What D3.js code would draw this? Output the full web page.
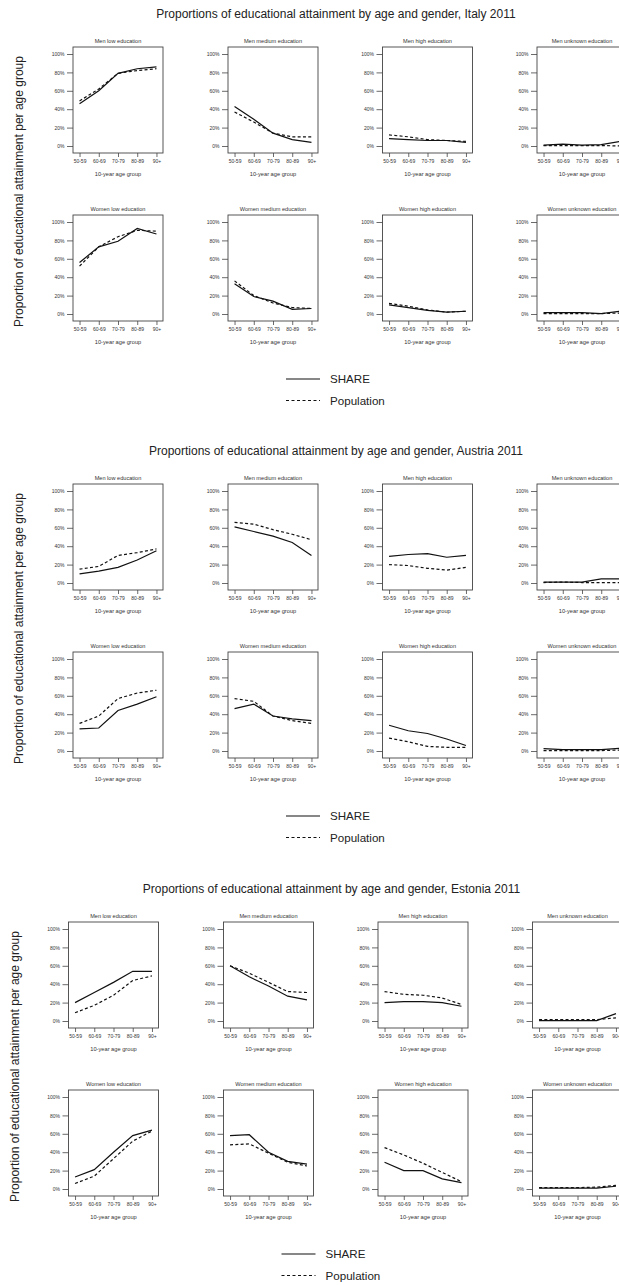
<!DOCTYPE html>
<html>
<script src="https://d3js.org/d3.v7.min.js"></script>
<style>
    body {
        margin: 0;
        background: white;
    }

    text {
        font-family: "Liberation Sans", Arial, sans-serif;
    }
</style>

<body>
    <svg width="619" height="1285"></svg>
    <script>
        const ageGroups = ["50-59", "60-69", "70-79", "80-89", "90+"];
        const yTicks = [0, 20, 40, 60, 80, 100];
        const countries = ["Italy", "Austria", "Estonia"];
        const legendLabels = ["SHARE", "Population"];
        const panelNames = ["Men low education", "Men medium education", "Men high education", "Men unknown education",
            "Women low education", "Women medium education", "Women high education", "Women unknown education"];

        // one row per panel, same order as panelNames, values in %
        const italyShare = [
            [46, 60, 79, 84, 86],
            [43, 29, 14, 7, 4],
            [8, 7, 6, 6, 4],
            [1, 2, 1, 1.5, 5],
            [56, 73, 79, 93, 87],
            [33, 19, 14, 5, 6],
            [10, 7, 4, 2, 3],
            [1.5, 1.5, 1.5, 0.5, 3]
        ];
        const italyPop = [
            [49, 62, 79, 82, 84],
            [37, 26, 14, 10, 10],
            [12, 10, 7, 6, 5],
            [0.5, 0.5, 0.5, 0.5, 0],
            [52, 73, 84, 91, 90],
            [36, 20, 12, 7, 6],
            [11.5, 8.5, 4.5, 2, 3],
            [0.5, 0.5, 0.5, 0.5, 1]
        ];
        const austriaShare = [
            [10, 13, 17, 25, 35],
            [61, 56, 51, 44, 30],
            [29, 31, 32, 28, 30],
            [1, 1, 1, 4.5, 4.5],
            [24, 25, 44, 51, 59],
            [46, 51, 38, 35, 33],
            [28, 22, 19, 13, 6],
            [2.5, 1.5, 1.5, 1.5, 3]
        ];
        const austriaPop = [
            [15, 18, 30, 33, 37],
            [66, 64, 58, 53, 47],
            [20, 19, 16, 14, 17],
            [0.5, 1, 0.5, 0.5, 0.5],
            [30, 38, 57, 63, 66],
            [57, 54, 38, 33, 30],
            [14, 10, 5, 4, 4],
            [0.5, 0.5, 0.5, 0.5, 1]
        ];
        const estoniaShare = [
            [20, 31, 42, 54, 54],
            [60, 48, 38, 27, 23],
            [20, 21, 21, 20, 16],
            [0.5, 0.5, 0.5, 0.5, 8],
            [13, 21, 40, 58, 64],
            [58, 59, 40, 30, 27],
            [29, 20, 20, 11, 7],
            [1, 1, 1, 1, 3]
        ];
        const estoniaPop = [
            [9, 17, 28, 44, 49],
            [60, 52, 42, 32, 31],
            [32, 29, 28, 25, 18],
            [1.5, 1.5, 1.5, 1.5, 3.5],
            [6, 14, 33, 52, 63],
            [48, 49, 39, 29, 25],
            [45, 37, 28, 18, 8],
            [1.5, 1.5, 1.5, 2, 4]
        ];

        const shareData = [italyShare, austriaShare, estoniaShare];
        const popData = [italyPop, austriaPop, estoniaPop];

        const svg = d3.select('svg');
        const blockTop = [0, 437, 875];
        const blockDx = [0, 0, -4.5];
        const colLeft = [73, 228, 382.5, 537];
        const rowTop = [47, 215];
        const pw = 90, ph = 106;

        const x = d3.scalePoint().domain(ageGroups).range([0, pw]).padding(0.34);
        const y = d3.scaleLinear().domain([0, 100]).range([99, 7]);
        const line = d3.line()
            .x(function (d, i) { return x(ageGroups[i]); })
            .y(function (d) { return y(d); });

        countries.forEach(function (country, ci) {
            const g = svg.append('g').attr('transform', 'translate(' + blockDx[ci] + ',' + blockTop[ci] + ')');

            g.append('text')
                .attr('x', 336).attr('y', 18)
                .attr('text-anchor', 'middle')
                .attr('font-size', 12).attr('fill', '#222')
                .text('Proportions of educational attainment by age and gender, ' + country + ' 2011');

            g.append('text')
                .attr('transform', 'translate(23,191.5) rotate(-90)')
                .attr('text-anchor', 'middle')
                .attr('font-size', 12).attr('fill', '#222')
                .text('Proportion of educational attainment per age group');

            panelNames.forEach(function (name, pi) {
                const p = g.append('g')
                    .attr('transform', 'translate(' + colLeft[pi % 4] + ',' + rowTop[Math.floor(pi / 4)] + ')');

                p.append('text')
                    .attr('x', pw / 2).attr('y', -4.5)
                    .attr('text-anchor', 'middle')
                    .attr('font-size', 5.6).attr('fill', '#333')
                    .text(name);

                const ya = p.append('g')
                    .call(d3.axisLeft(y).tickValues(yTicks).tickFormat(function (d) { return d + '%'; })
                        .tickSize(6).tickPadding(2.5));
                const xa = p.append('g').attr('transform', 'translate(0,' + ph + ')')
                    .call(d3.axisBottom(x).tickSize(4).tickPadding(2));
                [ya, xa].forEach(function (a) {
                    a.select('.domain').remove();
                    a.attr('font-family', null).attr('font-size', null);
                    a.selectAll('line').attr('stroke', '#444').attr('stroke-width', 0.8);
                    a.selectAll('text').attr('font-size', 5).attr('fill', '#333');
                });

                p.append('text')
                    .attr('x', pw / 2).attr('y', ph + 22.5)
                    .attr('text-anchor', 'middle')
                    .attr('font-size', 5.7).attr('fill', '#333')
                    .text('10-year age group');

                p.append('rect')
                    .attr('width', pw).attr('height', ph)
                    .attr('fill', 'none').attr('stroke', '#444').attr('stroke-width', 0.9);

                p.append('path')
                    .datum(popData[ci][pi])
                    .attr('d', line)
                    .attr('fill', 'none').attr('stroke', '#111')
                    .attr('stroke-width', 1.2).attr('stroke-dasharray', '3,2.3');

                p.append('path')
                    .datum(shareData[ci][pi])
                    .attr('d', line)
                    .attr('fill', 'none').attr('stroke', '#111')
                    .attr('stroke-width', 1.2);
            });

            // legend
            const lg = g.append('g');
            legendLabels.forEach(function (lab, li) {
                const ly = 379 + li * 21.5;
                lg.append('line')
                    .attr('x1', 286).attr('x2', 320)
                    .attr('y1', ly).attr('y2', ly)
                    .attr('stroke', '#111').attr('stroke-width', 1.2)
                    .attr('stroke-dasharray', li === 1 ? '3,2.5' : null);
                lg.append('text')
                    .attr('x', 330).attr('y', ly + 4.3)
                    .attr('font-size', 11.6).attr('fill', '#222')
                    .text(lab);
            });
        });
    </script>
</body>

</html>
